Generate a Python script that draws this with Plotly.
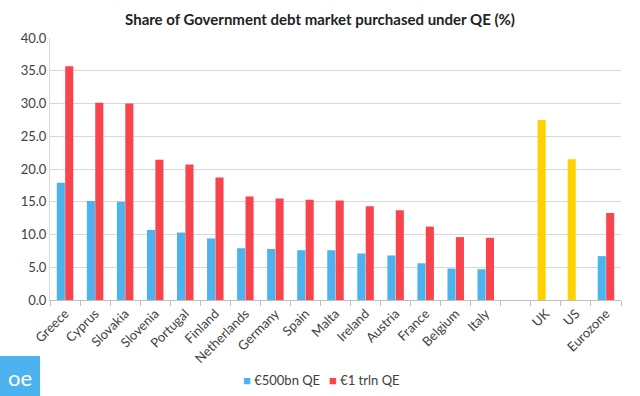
import plotly.graph_objects as go

categories = ["Greece", "Cyprus", "Slovakia", "Slovenia", "Portugal", "Finland",
              "Netherlands", "Germany", "Spain", "Malta", "Ireland", "Austria",
              "France", "Belgium", "Italy", " ", "UK", "US", "Eurozone"]
qe_500bn = [17.9, 15.1, 15.0, 10.7, 10.3, 9.4, 7.9, 7.8, 7.6, 7.6, 7.1, 6.8,
            5.6, 4.8, 4.7, None, 27.5, 21.5, 6.7]
qe_1trln = [35.7, 30.1, 30.0, 21.4, 20.7, 18.7, 15.8, 15.5, 15.3, 15.2, 14.3, 13.7,
            11.2, 9.6, 9.5, None, None, None, 13.3]
series_names = ["€500bn QE", "€1 trln QE"]

BLUE = "#4DB3EF"
RED = "#F9444D"
YELLOW = "#FFD100"
colors_500 = [YELLOW if c in ("UK", "US") else BLUE for c in categories]

fig = go.Figure()
fig.add_trace(go.Bar(x=categories, y=qe_500bn, name=series_names[0],
                     marker=dict(color=colors_500, line=dict(width=0))))
fig.add_trace(go.Bar(x=categories, y=qe_1trln, name=series_names[1],
                     marker=dict(color=RED, line=dict(width=0))))

font_family = "Lato, 'Open Sans', sans-serif"
PW, PH = 571, 262
fig.update_layout(
    width=640, height=396,
    margin=dict(l=50, r=19, t=38, b=96, autoexpand=False),
    paper_bgcolor="white", plot_bgcolor="white",
    barmode="group", bargap=0.44, bargroupgap=0.04,
    font=dict(family=font_family, size=13, color="#404040"),
    title=dict(text="<b>Share of Government debt market purchased under QE (%)</b>",
               x=0.5, xanchor="center", y=0.95, yanchor="middle",
               font=dict(size=15, color="#222222")),
    showlegend=False,
)
fig.update_xaxes(type="category", tickangle=-45, showline=True, linecolor="#bfbfbf",
                 ticks="outside", tickson="boundaries", ticklen=5, tickcolor="#bfbfbf",
                 showgrid=False, automargin=False, tickfont=dict(size=13, color="#404040"))
fig.update_yaxes(range=[0, 40], dtick=5, tickformat=".1f", showgrid=True,
                 gridcolor="#d9d9d9", gridwidth=1, showline=True, linecolor="#d9d9d9",
                 zeroline=False, ticks="", automargin=False,
                 tickfont=dict(size=13, color="#404040"))

# legend (drawn as text)
legend_y = -80 / PH
for name, col, px in [(series_names[0], BLUE, 241), (series_names[1], RED, 327)]:
    fig.add_annotation(text=f"<span style='color:{col}'>■</span> {name}",
                       xref="paper", yref="paper", x=(px - 50) / PW, y=legend_y,
                       xanchor="left", yanchor="middle", showarrow=False,
                       font=dict(size=13, color="#404040", family=font_family))

# logo
fig.add_shape(type="rect", xref="paper", yref="paper",
              x0=-50/PW, x1=-10/PW, y0=-96/PH, y1=-56/PH,
              fillcolor=BLUE, line=dict(width=0), layer="above")
fig.add_annotation(text="oe", xref="paper", yref="paper", x=-30/PW, y=-77/PH,
                   showarrow=False, font=dict(size=22, color="white", family=font_family),
                   xanchor="center", yanchor="middle")

fig.write_html("out.html", config={"displayModeBar": False},
               post_script="document.body.style.margin='0';document.body.style.overflow='hidden';")
